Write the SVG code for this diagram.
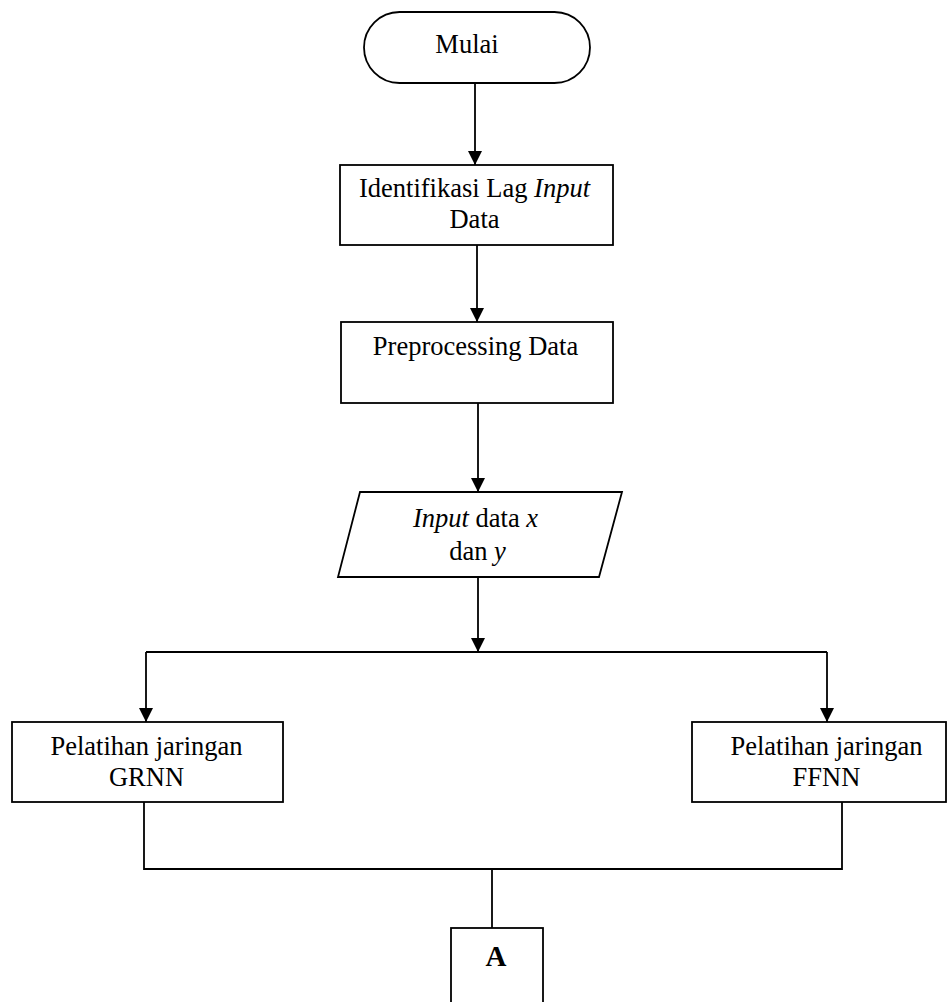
<svg xmlns="http://www.w3.org/2000/svg" width="949" height="1002" viewBox="0 0 949 1002">
  <style>
    .shape { fill: #ffffff; stroke: #000000; stroke-width: 1.8; }
    .wire { fill: none; stroke: #000000; stroke-width: 1.8; }
    .label { font-family: "Liberation Serif", "Times New Roman", serif; font-size: 26.5px; fill: #000000; text-anchor: middle; }
    .bold { font-weight: bold; font-size: 29px; }
    .it { font-style: italic; }
  </style>
  <defs>
    <marker id="arrow" markerUnits="userSpaceOnUse" markerWidth="14" markerHeight="15" refX="14" refY="7" orient="auto">
      <path d="M0,0 L14,7 L0,14 Z" fill="#000000"/>
    </marker>
  </defs>

  <rect width="949" height="1002" fill="#ffffff"/>

  <!-- connectors -->
  <g id="connectors">
    <path class="wire" d="M475,84 V165" marker-end="url(#arrow)"/>
    <path class="wire" d="M477,245 V322" marker-end="url(#arrow)"/>
    <path class="wire" d="M478,403 V492" marker-end="url(#arrow)"/>
    <path class="wire" d="M478,577 V652" marker-end="url(#arrow)"/>
    <path class="wire" d="M146,652 H827"/>
    <path class="wire" d="M146,652 V722" marker-end="url(#arrow)"/>
    <path class="wire" d="M827,652 V722" marker-end="url(#arrow)"/>
    <path class="wire" d="M144,802 V869 H842 V802"/>
    <path class="wire" d="M492,869 V928"/>
  </g>

  <!-- start terminal -->
  <g id="mulai">
    <rect class="shape" x="364" y="12" width="226" height="71" rx="35.5" ry="35.5"/>
    <text class="label" x="467" y="53">Mulai</text>
  </g>

  <!-- lag identification -->
  <g id="identifikasi">
    <rect class="shape" x="340" y="165" width="273" height="80"/>
    <text class="label" x="474.5" y="197">Identifikasi Lag <tspan class="it">Input</tspan></text>
    <text class="label" x="474.5" y="228">Data</text>
  </g>

  <!-- preprocessing -->
  <g id="preprocessing">
    <rect class="shape" x="341" y="322" width="272" height="81"/>
    <text class="label" x="475.5" y="355">Preprocessing Data</text>
  </g>

  <!-- input data -->
  <g id="input">
    <polygon class="shape" points="360,492 622,492 599,577 338,577"/>
    <text class="label" x="475.5" y="527"><tspan class="it">Input</tspan> data <tspan class="it">x</tspan></text>
    <text class="label" x="477.5" y="560">dan <tspan class="it">y</tspan></text>
  </g>

  <!-- GRNN training -->
  <g id="grnn">
    <rect class="shape" x="12" y="722" width="271" height="80"/>
    <text class="label" x="146.5" y="755">Pelatihan jaringan</text>
    <text class="label" x="146.5" y="786">GRNN</text>
  </g>

  <!-- FFNN training -->
  <g id="ffnn">
    <rect class="shape" x="692" y="722" width="254" height="80"/>
    <text class="label" x="826.5" y="755">Pelatihan jaringan</text>
    <text class="label" x="826.5" y="786">FFNN</text>
  </g>

  <!-- off-page connector -->
  <g id="connector-a">
    <rect class="shape" x="451" y="928" width="92" height="80"/>
    <text class="label bold" x="496" y="966">A</text>
  </g>
</svg>
